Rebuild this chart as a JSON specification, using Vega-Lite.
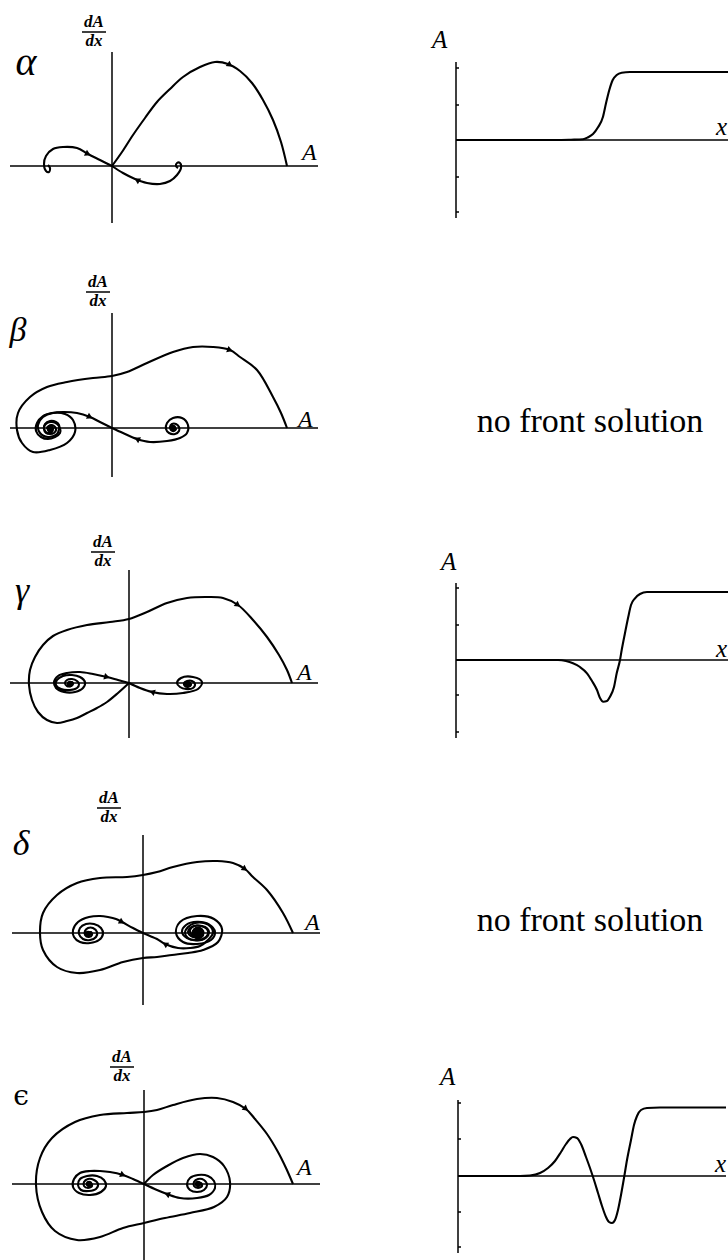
{
  "$schema": "https://vega.github.io/schema/vega-lite/v6.json",
  "background": "white",
  "padding": 0,
  "spacing": 0,
  "columns": 2,
  "align": "each",
  "bounds": "flush",
  "config": {"view": {"stroke": null}, "text": {"font": "Liberation Serif", "color": "black"}},
  "datasets": {
    "trajectories": [
      {"p":"α","c":"main","i":0,"A":0,"dA":0},{"p":"α","c":"main","i":1,"A":1.0,"dA":1.4},{"p":"α","c":"main","i":2,"A":2.1,"dA":3.1},{"p":"α","c":"main","i":3,"A":3.3,"dA":4.8},{"p":"α","c":"main","i":4,"A":4.5,"dA":6.4},{"p":"α","c":"main","i":5,"A":5.8,"dA":7.7},{"p":"α","c":"main","i":6,"A":7.1,"dA":8.9},{"p":"α","c":"main","i":7,"A":8.8,"dA":9.9},{"p":"α","c":"main","i":8,"A":10.3,"dA":10.4},{"p":"α","c":"main","i":9,"A":11.6,"dA":10.2},{"p":"α","c":"main","i":10,"A":12.8,"dA":9.5},{"p":"α","c":"main","i":11,"A":14.0,"dA":8.3},{"p":"α","c":"main","i":12,"A":15.1,"dA":6.6},{"p":"α","c":"main","i":13,"A":16.1,"dA":4.6},{"p":"α","c":"main","i":14,"A":16.9,"dA":2.4},{"p":"α","c":"main","i":15,"A":17.5,"dA":0},
      {"p":"α","c":"left","i":0,"A":0,"dA":0},{"p":"α","c":"left","i":1,"A":-1.2,"dA":0.6},{"p":"α","c":"left","i":2,"A":-2.4,"dA":1.2},{"p":"α","c":"left","i":3,"A":-3.5,"dA":1.8},{"p":"α","c":"left","i":4,"A":-4.9,"dA":1.9},{"p":"α","c":"left","i":5,"A":-5.9,"dA":1.7},{"p":"α","c":"left","i":6,"A":-6.6,"dA":1.0},{"p":"α","c":"left","i":7,"A":-6.8,"dA":0.2},{"p":"α","c":"left","i":8,"A":-6.6,"dA":-0.5},{"p":"α","c":"left","i":9,"A":-6.3,"dA":-0.6},{"p":"α","c":"left","i":10,"A":-6.2,"dA":-0.2},{"p":"α","c":"left","i":11,"A":-6.4,"dA":0.1},
      {"p":"α","c":"right","i":0,"A":0,"dA":0},{"p":"α","c":"right","i":1,"A":1.1,"dA":-0.7},{"p":"α","c":"right","i":2,"A":2.3,"dA":-1.3},{"p":"α","c":"right","i":3,"A":3.5,"dA":-1.7},{"p":"α","c":"right","i":4,"A":4.8,"dA":-1.8},{"p":"α","c":"right","i":5,"A":5.8,"dA":-1.5},{"p":"α","c":"right","i":6,"A":6.5,"dA":-0.9},{"p":"α","c":"right","i":7,"A":6.9,"dA":-0.2},{"p":"α","c":"right","i":8,"A":6.8,"dA":0.3},{"p":"α","c":"right","i":9,"A":6.5,"dA":0.3},{"p":"α","c":"right","i":10,"A":6.4,"dA":0},{"p":"α","c":"right","i":11,"A":6.6,"dA":-0.2},

      {"p":"β","c":"main","i":0,"A":-6.0,"dA":-0.1},{"p":"β","c":"main","i":1,"A":-6.1,"dA":-0.3},{"p":"β","c":"main","i":2,"A":-6.3,"dA":-0.3},{"p":"β","c":"main","i":3,"A":-6.4,"dA":-0.1},{"p":"β","c":"main","i":4,"A":-6.3,"dA":0.2},{"p":"β","c":"main","i":5,"A":-6.0,"dA":0.3},{"p":"β","c":"main","i":6,"A":-5.7,"dA":0.1},{"p":"β","c":"main","i":7,"A":-5.6,"dA":-0.2},{"p":"β","c":"main","i":8,"A":-5.8,"dA":-0.5},{"p":"β","c":"main","i":9,"A":-6.2,"dA":-0.6},{"p":"β","c":"main","i":10,"A":-6.6,"dA":-0.5},{"p":"β","c":"main","i":11,"A":-6.8,"dA":-0.1},{"p":"β","c":"main","i":12,"A":-6.7,"dA":0.4},{"p":"β","c":"main","i":13,"A":-6.2,"dA":0.7},{"p":"β","c":"main","i":14,"A":-5.6,"dA":0.6},{"p":"β","c":"main","i":15,"A":-5.3,"dA":0.3},{"p":"β","c":"main","i":16,"A":-5.3,"dA":-0.1},{"p":"β","c":"main","i":17,"A":-5.5,"dA":-0.6},{"p":"β","c":"main","i":18,"A":-6.4,"dA":-0.9},{"p":"β","c":"main","i":19,"A":-7.2,"dA":-0.5},{"p":"β","c":"main","i":20,"A":-7.4,"dA":0.3},{"p":"β","c":"main","i":21,"A":-6.9,"dA":1.1},{"p":"β","c":"main","i":22,"A":-5.9,"dA":1.5},{"p":"β","c":"main","i":23,"A":-4.7,"dA":1.4},{"p":"β","c":"main","i":24,"A":-3.9,"dA":0.8},{"p":"β","c":"main","i":25,"A":-3.7,"dA":-0.4},{"p":"β","c":"main","i":26,"A":-4.5,"dA":-1.5},{"p":"β","c":"main","i":27,"A":-6.2,"dA":-2.2},{"p":"β","c":"main","i":28,"A":-7.9,"dA":-2.4},{"p":"β","c":"main","i":29,"A":-9.0,"dA":-1.5},{"p":"β","c":"main","i":30,"A":-9.5,"dA":-0.2},{"p":"β","c":"main","i":31,"A":-9.4,"dA":1.5},{"p":"β","c":"main","i":32,"A":-8.2,"dA":3.1},{"p":"β","c":"main","i":33,"A":-6.5,"dA":4.1},{"p":"β","c":"main","i":34,"A":-4.5,"dA":4.6},{"p":"β","c":"main","i":35,"A":-1.9,"dA":5.0},{"p":"β","c":"main","i":36,"A":0,"dA":5.2},{"p":"β","c":"main","i":37,"A":1.5,"dA":5.6},{"p":"β","c":"main","i":38,"A":3.5,"dA":6.5},{"p":"β","c":"main","i":39,"A":6.1,"dA":7.6},{"p":"β","c":"main","i":40,"A":8.1,"dA":8.1},{"p":"β","c":"main","i":41,"A":10.1,"dA":8.1},{"p":"β","c":"main","i":42,"A":11.8,"dA":7.8},{"p":"β","c":"main","i":43,"A":12.8,"dA":7.1},{"p":"β","c":"main","i":44,"A":14.5,"dA":5.8},{"p":"β","c":"main","i":45,"A":16.1,"dA":3.1},{"p":"β","c":"main","i":46,"A":16.9,"dA":1.5},{"p":"β","c":"main","i":47,"A":17.5,"dA":0},
      {"p":"β","c":"left","i":0,"A":-6.3,"dA":-0.2},{"p":"β","c":"left","i":1,"A":-6.5,"dA":0},{"p":"β","c":"left","i":2,"A":-6.3,"dA":0.2},{"p":"β","c":"left","i":3,"A":-6.0,"dA":0.2},{"p":"β","c":"left","i":4,"A":-5.9,"dA":-0.1},{"p":"β","c":"left","i":5,"A":-6.0,"dA":-0.4},{"p":"β","c":"left","i":6,"A":-6.4,"dA":-0.5},{"p":"β","c":"left","i":7,"A":-6.7,"dA":-0.3},{"p":"β","c":"left","i":8,"A":-6.8,"dA":0.1},{"p":"β","c":"left","i":9,"A":-6.5,"dA":0.5},{"p":"β","c":"left","i":10,"A":-6.0,"dA":0.6},{"p":"β","c":"left","i":11,"A":-5.5,"dA":0.4},{"p":"β","c":"left","i":12,"A":-5.2,"dA":0},{"p":"β","c":"left","i":13,"A":-5.2,"dA":-0.5},{"p":"β","c":"left","i":14,"A":-5.7,"dA":-0.9},{"p":"β","c":"left","i":15,"A":-6.4,"dA":-1.1},{"p":"β","c":"left","i":16,"A":-7.1,"dA":-0.9},{"p":"β","c":"left","i":17,"A":-7.6,"dA":-0.3},{"p":"β","c":"left","i":18,"A":-7.5,"dA":0.5},{"p":"β","c":"left","i":19,"A":-6.9,"dA":1.2},{"p":"β","c":"left","i":20,"A":-6.0,"dA":1.5},{"p":"β","c":"left","i":21,"A":-4.9,"dA":1.6},{"p":"β","c":"left","i":22,"A":-3.5,"dA":1.5},{"p":"β","c":"left","i":23,"A":-2.2,"dA":1.1},{"p":"β","c":"left","i":24,"A":-1.2,"dA":0.6},{"p":"β","c":"left","i":25,"A":0,"dA":0},
      {"p":"β","c":"right","i":0,"A":6.2,"dA":0},{"p":"β","c":"right","i":1,"A":6.4,"dA":-0.1},{"p":"β","c":"right","i":2,"A":6.2,"dA":-0.3},{"p":"β","c":"right","i":3,"A":5.9,"dA":-0.2},{"p":"β","c":"right","i":4,"A":5.8,"dA":0.1},{"p":"β","c":"right","i":5,"A":6.0,"dA":0.4},{"p":"β","c":"right","i":6,"A":6.4,"dA":0.4},{"p":"β","c":"right","i":7,"A":6.7,"dA":0.1},{"p":"β","c":"right","i":8,"A":6.7,"dA":-0.3},{"p":"β","c":"right","i":9,"A":6.3,"dA":-0.6},{"p":"β","c":"right","i":10,"A":5.7,"dA":-0.5},{"p":"β","c":"right","i":11,"A":5.4,"dA":-0.1},{"p":"β","c":"right","i":12,"A":5.5,"dA":0.5},{"p":"β","c":"right","i":13,"A":6.1,"dA":1.0},{"p":"β","c":"right","i":14,"A":7.0,"dA":1.0},{"p":"β","c":"right","i":15,"A":7.6,"dA":0.3},{"p":"β","c":"right","i":16,"A":7.5,"dA":-0.5},{"p":"β","c":"right","i":17,"A":6.8,"dA":-1.0},{"p":"β","c":"right","i":18,"A":5.5,"dA":-1.3},{"p":"β","c":"right","i":19,"A":3.8,"dA":-1.4},{"p":"β","c":"right","i":20,"A":2.5,"dA":-1.1},{"p":"β","c":"right","i":21,"A":1.1,"dA":-0.5},{"p":"β","c":"right","i":22,"A":0,"dA":0},

      {"p":"γ","c":"main","i":0,"A":0,"dA":0},{"p":"γ","c":"main","i":1,"A":-1.1,"dA":-1.0},{"p":"γ","c":"main","i":2,"A":-2.2,"dA":-1.9},{"p":"γ","c":"main","i":3,"A":-3.2,"dA":-2.5},{"p":"γ","c":"main","i":4,"A":-4.2,"dA":-3.0},{"p":"γ","c":"main","i":5,"A":-5.2,"dA":-3.5},{"p":"γ","c":"main","i":6,"A":-6.2,"dA":-3.8},{"p":"γ","c":"main","i":7,"A":-7.2,"dA":-4.0},{"p":"γ","c":"main","i":8,"A":-8.2,"dA":-3.7},{"p":"γ","c":"main","i":9,"A":-9.1,"dA":-2.9},{"p":"γ","c":"main","i":10,"A":-9.7,"dA":-1.7},{"p":"γ","c":"main","i":11,"A":-10.0,"dA":-0.2},{"p":"γ","c":"main","i":12,"A":-9.9,"dA":1.3},{"p":"γ","c":"main","i":13,"A":-9.4,"dA":2.6},{"p":"γ","c":"main","i":14,"A":-8.6,"dA":3.8},{"p":"γ","c":"main","i":15,"A":-7.6,"dA":4.7},{"p":"γ","c":"main","i":16,"A":-6.2,"dA":5.3},{"p":"γ","c":"main","i":17,"A":-4.2,"dA":5.8},{"p":"γ","c":"main","i":18,"A":-1.9,"dA":6.1},{"p":"γ","c":"main","i":19,"A":0,"dA":6.4},{"p":"γ","c":"main","i":20,"A":1.8,"dA":7.1},{"p":"γ","c":"main","i":21,"A":3.8,"dA":8.0},{"p":"γ","c":"main","i":22,"A":5.8,"dA":8.5},{"p":"γ","c":"main","i":23,"A":7.8,"dA":8.6},{"p":"γ","c":"main","i":24,"A":9.4,"dA":8.5},{"p":"γ","c":"main","i":25,"A":10.9,"dA":7.8},{"p":"γ","c":"main","i":26,"A":12.4,"dA":6.3},{"p":"γ","c":"main","i":27,"A":13.8,"dA":4.6},{"p":"γ","c":"main","i":28,"A":15.0,"dA":2.8},{"p":"γ","c":"main","i":29,"A":15.8,"dA":1.3},{"p":"γ","c":"main","i":30,"A":16.3,"dA":0},
      {"p":"γ","c":"left","i":0,"A":-5.9,"dA":0},{"p":"γ","c":"left","i":1,"A":-5.7,"dA":0.1},{"p":"γ","c":"left","i":2,"A":-5.6,"dA":-0.1},{"p":"γ","c":"left","i":3,"A":-5.8,"dA":-0.3},{"p":"γ","c":"left","i":4,"A":-6.2,"dA":-0.3},{"p":"γ","c":"left","i":5,"A":-6.4,"dA":0},{"p":"γ","c":"left","i":6,"A":-6.2,"dA":0.3},{"p":"γ","c":"left","i":7,"A":-5.7,"dA":0.4},{"p":"γ","c":"left","i":8,"A":-5.2,"dA":0.2},{"p":"γ","c":"left","i":9,"A":-5.0,"dA":-0.1},{"p":"γ","c":"left","i":10,"A":-5.2,"dA":-0.5},{"p":"γ","c":"left","i":11,"A":-5.9,"dA":-0.7},{"p":"γ","c":"left","i":12,"A":-6.8,"dA":-0.6},{"p":"γ","c":"left","i":13,"A":-7.3,"dA":-0.2},{"p":"γ","c":"left","i":14,"A":-7.2,"dA":0.3},{"p":"γ","c":"left","i":15,"A":-6.6,"dA":0.7},{"p":"γ","c":"left","i":16,"A":-5.7,"dA":0.8},{"p":"γ","c":"left","i":17,"A":-4.9,"dA":0.6},{"p":"γ","c":"left","i":18,"A":-4.4,"dA":0.1},{"p":"γ","c":"left","i":19,"A":-4.6,"dA":-0.5},{"p":"γ","c":"left","i":20,"A":-5.4,"dA":-0.9},{"p":"γ","c":"left","i":21,"A":-6.5,"dA":-0.9},{"p":"γ","c":"left","i":22,"A":-7.3,"dA":-0.5},{"p":"γ","c":"left","i":23,"A":-7.5,"dA":0.1},{"p":"γ","c":"left","i":24,"A":-7.1,"dA":0.7},{"p":"γ","c":"left","i":25,"A":-6.2,"dA":1.0},{"p":"γ","c":"left","i":26,"A":-4.9,"dA":1.1},{"p":"γ","c":"left","i":27,"A":-3.6,"dA":0.9},{"p":"γ","c":"left","i":28,"A":-2.2,"dA":0.6},{"p":"γ","c":"left","i":29,"A":-1.1,"dA":0.3},{"p":"γ","c":"left","i":30,"A":0,"dA":0},
      {"p":"γ","c":"right","i":0,"A":5.9,"dA":-0.1},{"p":"γ","c":"right","i":1,"A":6.1,"dA":0},{"p":"γ","c":"right","i":2,"A":6.2,"dA":-0.2},{"p":"γ","c":"right","i":3,"A":5.9,"dA":-0.4},{"p":"γ","c":"right","i":4,"A":5.6,"dA":-0.3},{"p":"γ","c":"right","i":5,"A":5.5,"dA":0},{"p":"γ","c":"right","i":6,"A":5.8,"dA":0.2},{"p":"γ","c":"right","i":7,"A":6.3,"dA":0.2},{"p":"γ","c":"right","i":8,"A":6.6,"dA":-0.1},{"p":"γ","c":"right","i":9,"A":6.4,"dA":-0.5},{"p":"γ","c":"right","i":10,"A":5.7,"dA":-0.6},{"p":"γ","c":"right","i":11,"A":5.1,"dA":-0.4},{"p":"γ","c":"right","i":12,"A":4.8,"dA":0},{"p":"γ","c":"right","i":13,"A":5.2,"dA":0.5},{"p":"γ","c":"right","i":14,"A":6.4,"dA":0.6},{"p":"γ","c":"right","i":15,"A":7.3,"dA":0.1},{"p":"γ","c":"right","i":16,"A":6.9,"dA":-0.6},{"p":"γ","c":"right","i":17,"A":5.4,"dA":-1.0},{"p":"γ","c":"right","i":18,"A":3.8,"dA":-1.1},{"p":"γ","c":"right","i":19,"A":2.3,"dA":-0.9},{"p":"γ","c":"right","i":20,"A":1.1,"dA":-0.5},{"p":"γ","c":"right","i":21,"A":0,"dA":0},

      {"p":"δ","c":"main","i":0,"A":6.0,"dA":0.1},{"p":"δ","c":"main","i":1,"A":5.9,"dA":-0.2},{"p":"δ","c":"main","i":2,"A":5.4,"dA":-0.4},{"p":"δ","c":"main","i":3,"A":4.8,"dA":-0.3},{"p":"δ","c":"main","i":4,"A":4.5,"dA":0.1},{"p":"δ","c":"main","i":5,"A":4.7,"dA":0.5},{"p":"δ","c":"main","i":6,"A":5.4,"dA":0.75},{"p":"δ","c":"main","i":7,"A":6.2,"dA":0.6},{"p":"δ","c":"main","i":8,"A":6.6,"dA":0.1},{"p":"δ","c":"main","i":9,"A":6.3,"dA":-0.46},{"p":"δ","c":"main","i":10,"A":5.4,"dA":-0.74},{"p":"δ","c":"main","i":11,"A":4.4,"dA":-0.52},{"p":"δ","c":"main","i":12,"A":3.9,"dA":0.1},{"p":"δ","c":"main","i":13,"A":4.3,"dA":0.8},{"p":"δ","c":"main","i":14,"A":5.4,"dA":1.12},{"p":"δ","c":"main","i":15,"A":6.6,"dA":0.86},{"p":"δ","c":"main","i":16,"A":7.2,"dA":0.1},{"p":"δ","c":"main","i":17,"A":6.8,"dA":-0.7},{"p":"δ","c":"main","i":18,"A":5.4,"dA":-1.1},{"p":"δ","c":"main","i":19,"A":4.0,"dA":-0.9},{"p":"δ","c":"main","i":20,"A":3.3,"dA":0},{"p":"δ","c":"main","i":21,"A":3.7,"dA":1.1},{"p":"δ","c":"main","i":22,"A":5.4,"dA":1.7},{"p":"δ","c":"main","i":23,"A":7.1,"dA":1.4},{"p":"δ","c":"main","i":24,"A":7.9,"dA":0.4},{"p":"δ","c":"main","i":25,"A":7.5,"dA":-0.9},{"p":"δ","c":"main","i":26,"A":6.0,"dA":-1.7},{"p":"δ","c":"main","i":27,"A":4.5,"dA":-2.0},{"p":"δ","c":"main","i":28,"A":2.9,"dA":-2.2},{"p":"δ","c":"main","i":29,"A":1.4,"dA":-2.4},{"p":"δ","c":"main","i":30,"A":0,"dA":-2.5},{"p":"δ","c":"main","i":31,"A":-2.0,"dA":-2.9},{"p":"δ","c":"main","i":32,"A":-4.3,"dA":-3.7},{"p":"δ","c":"main","i":33,"A":-6.6,"dA":-4.0},{"p":"δ","c":"main","i":34,"A":-8.6,"dA":-3.4},{"p":"δ","c":"main","i":35,"A":-10.0,"dA":-1.7},{"p":"δ","c":"main","i":36,"A":-10.3,"dA":0},{"p":"δ","c":"main","i":37,"A":-10.0,"dA":2.0},{"p":"δ","c":"main","i":38,"A":-8.6,"dA":3.8},{"p":"δ","c":"main","i":39,"A":-6.6,"dA":5.0},{"p":"δ","c":"main","i":40,"A":-4.3,"dA":5.5},{"p":"δ","c":"main","i":41,"A":-1.6,"dA":5.6},{"p":"δ","c":"main","i":42,"A":0,"dA":5.8},{"p":"δ","c":"main","i":43,"A":1.4,"dA":6.1},{"p":"δ","c":"main","i":44,"A":3.0,"dA":6.6},{"p":"δ","c":"main","i":45,"A":5.4,"dA":7.1},{"p":"δ","c":"main","i":46,"A":7.4,"dA":7.2},{"p":"δ","c":"main","i":47,"A":9.0,"dA":7.0},{"p":"δ","c":"main","i":48,"A":10.2,"dA":6.4},{"p":"δ","c":"main","i":49,"A":11.0,"dA":5.6},{"p":"δ","c":"main","i":50,"A":12.4,"dA":4.3},{"p":"δ","c":"main","i":51,"A":14.0,"dA":2.0},{"p":"δ","c":"main","i":52,"A":15.0,"dA":0},
      {"p":"δ","c":"left","i":0,"A":-5.5,"dA":0},{"p":"δ","c":"left","i":1,"A":-5.2,"dA":0.1},{"p":"δ","c":"left","i":2,"A":-5.1,"dA":-0.2},{"p":"δ","c":"left","i":3,"A":-5.4,"dA":-0.4},{"p":"δ","c":"left","i":4,"A":-5.8,"dA":-0.2},{"p":"δ","c":"left","i":5,"A":-5.8,"dA":0.2},{"p":"δ","c":"left","i":6,"A":-5.5,"dA":0.5},{"p":"δ","c":"left","i":7,"A":-5.0,"dA":0.5},{"p":"δ","c":"left","i":8,"A":-4.6,"dA":0.1},{"p":"δ","c":"left","i":9,"A":-4.7,"dA":-0.4},{"p":"δ","c":"left","i":10,"A":-5.3,"dA":-0.7},{"p":"δ","c":"left","i":11,"A":-6.0,"dA":-0.6},{"p":"δ","c":"left","i":12,"A":-6.4,"dA":-0.1},{"p":"δ","c":"left","i":13,"A":-6.3,"dA":0.5},{"p":"δ","c":"left","i":14,"A":-5.7,"dA":0.9},{"p":"δ","c":"left","i":15,"A":-4.9,"dA":0.9},{"p":"δ","c":"left","i":16,"A":-4.2,"dA":0.5},{"p":"δ","c":"left","i":17,"A":-4.0,"dA":-0.1},{"p":"δ","c":"left","i":18,"A":-4.4,"dA":-0.7},{"p":"δ","c":"left","i":19,"A":-5.3,"dA":-1.0},{"p":"δ","c":"left","i":20,"A":-6.3,"dA":-0.9},{"p":"δ","c":"left","i":21,"A":-6.9,"dA":-0.4},{"p":"δ","c":"left","i":22,"A":-7.0,"dA":0.3},{"p":"δ","c":"left","i":23,"A":-6.5,"dA":1.1},{"p":"δ","c":"left","i":24,"A":-5.4,"dA":1.6},{"p":"δ","c":"left","i":25,"A":-4.3,"dA":1.7},{"p":"δ","c":"left","i":26,"A":-3.5,"dA":1.6},{"p":"δ","c":"left","i":27,"A":-2.7,"dA":1.4},{"p":"δ","c":"left","i":28,"A":-2.1,"dA":1.1},{"p":"δ","c":"left","i":29,"A":-1.0,"dA":0.5},{"p":"δ","c":"left","i":30,"A":0,"dA":0},
      {"p":"δ","c":"right","i":0,"A":5.0,"dA":0.1},{"p":"δ","c":"right","i":1,"A":5.2,"dA":0.4},{"p":"δ","c":"right","i":2,"A":5.7,"dA":0.4},{"p":"δ","c":"right","i":3,"A":6.0,"dA":0.1},{"p":"δ","c":"right","i":4,"A":5.8,"dA":-0.2},{"p":"δ","c":"right","i":5,"A":5.3,"dA":-0.3},{"p":"δ","c":"right","i":6,"A":4.8,"dA":-0.1},{"p":"δ","c":"right","i":7,"A":4.7,"dA":0.3},{"p":"δ","c":"right","i":8,"A":5.1,"dA":0.7},{"p":"δ","c":"right","i":9,"A":5.8,"dA":0.7},{"p":"δ","c":"right","i":10,"A":6.4,"dA":0.4},{"p":"δ","c":"right","i":11,"A":6.5,"dA":-0.1},{"p":"δ","c":"right","i":12,"A":6.0,"dA":-0.6},{"p":"δ","c":"right","i":13,"A":5.2,"dA":-0.7},{"p":"δ","c":"right","i":14,"A":4.5,"dA":-0.5},{"p":"δ","c":"right","i":15,"A":4.2,"dA":0},{"p":"δ","c":"right","i":16,"A":4.5,"dA":0.6},{"p":"δ","c":"right","i":17,"A":5.2,"dA":1.0},{"p":"δ","c":"right","i":18,"A":6.1,"dA":1.0},{"p":"δ","c":"right","i":19,"A":6.8,"dA":0.6},{"p":"δ","c":"right","i":20,"A":7.0,"dA":0},{"p":"δ","c":"right","i":21,"A":6.5,"dA":-0.7},{"p":"δ","c":"right","i":22,"A":5.7,"dA":-1.3},{"p":"δ","c":"right","i":23,"A":4.7,"dA":-1.5},{"p":"δ","c":"right","i":24,"A":3.5,"dA":-1.5},{"p":"δ","c":"right","i":25,"A":2.2,"dA":-1.1},{"p":"δ","c":"right","i":26,"A":1.4,"dA":-0.6},{"p":"δ","c":"right","i":27,"A":0.7,"dA":-0.3},{"p":"δ","c":"right","i":28,"A":0,"dA":0},

      {"p":"ϵ","c":"main","i":0,"A":0,"dA":0},{"p":"ϵ","c":"main","i":1,"A":0.9,"dA":0.9},{"p":"ϵ","c":"main","i":2,"A":2.3,"dA":1.8},{"p":"ϵ","c":"main","i":3,"A":3.9,"dA":2.6},{"p":"ϵ","c":"main","i":4,"A":5.6,"dA":3.0},{"p":"ϵ","c":"main","i":5,"A":6.9,"dA":2.7},{"p":"ϵ","c":"main","i":6,"A":8.0,"dA":1.8},{"p":"ϵ","c":"main","i":7,"A":8.6,"dA":0.2},{"p":"ϵ","c":"main","i":8,"A":8.3,"dA":-1.3},{"p":"ϵ","c":"main","i":9,"A":7.0,"dA":-2.3},{"p":"ϵ","c":"main","i":10,"A":4.6,"dA":-2.9},{"p":"ϵ","c":"main","i":11,"A":2.1,"dA":-3.4},{"p":"ϵ","c":"main","i":12,"A":0,"dA":-3.9},{"p":"ϵ","c":"main","i":13,"A":-2.1,"dA":-4.4},{"p":"ϵ","c":"main","i":14,"A":-4.4,"dA":-5.3},{"p":"ϵ","c":"main","i":15,"A":-6.7,"dA":-5.6},{"p":"ϵ","c":"main","i":16,"A":-8.9,"dA":-4.7},{"p":"ϵ","c":"main","i":17,"A":-10.2,"dA":-2.8},{"p":"ϵ","c":"main","i":18,"A":-10.8,"dA":-0.1},{"p":"ϵ","c":"main","i":19,"A":-10.4,"dA":2.6},{"p":"ϵ","c":"main","i":20,"A":-9.2,"dA":4.6},{"p":"ϵ","c":"main","i":21,"A":-6.9,"dA":6.2},{"p":"ϵ","c":"main","i":22,"A":-4.4,"dA":6.9},{"p":"ϵ","c":"main","i":23,"A":-1.7,"dA":7.1},{"p":"ϵ","c":"main","i":24,"A":0,"dA":7.2},{"p":"ϵ","c":"main","i":25,"A":1.3,"dA":7.4},{"p":"ϵ","c":"main","i":26,"A":2.9,"dA":7.9},{"p":"ϵ","c":"main","i":27,"A":5.3,"dA":8.5},{"p":"ϵ","c":"main","i":28,"A":7.3,"dA":8.6},{"p":"ϵ","c":"main","i":29,"A":8.9,"dA":8.2},{"p":"ϵ","c":"main","i":30,"A":10.2,"dA":7.5},{"p":"ϵ","c":"main","i":31,"A":11.1,"dA":6.5},{"p":"ϵ","c":"main","i":32,"A":12.3,"dA":5.0},{"p":"ϵ","c":"main","i":33,"A":13.4,"dA":3.2},{"p":"ϵ","c":"main","i":34,"A":14.2,"dA":1.6},{"p":"ϵ","c":"main","i":35,"A":14.9,"dA":0},
      {"p":"ϵ","c":"left","i":0,"A":-5.6,"dA":0},{"p":"ϵ","c":"left","i":1,"A":-5.3,"dA":0.1},{"p":"ϵ","c":"left","i":2,"A":-5.2,"dA":-0.2},{"p":"ϵ","c":"left","i":3,"A":-5.6,"dA":-0.4},{"p":"ϵ","c":"left","i":4,"A":-6.0,"dA":-0.2},{"p":"ϵ","c":"left","i":5,"A":-6.0,"dA":0.2},{"p":"ϵ","c":"left","i":6,"A":-5.6,"dA":0.5},{"p":"ϵ","c":"left","i":7,"A":-5.0,"dA":0.4},{"p":"ϵ","c":"left","i":8,"A":-4.6,"dA":0},{"p":"ϵ","c":"left","i":9,"A":-4.8,"dA":-0.5},{"p":"ϵ","c":"left","i":10,"A":-5.5,"dA":-0.7},{"p":"ϵ","c":"left","i":11,"A":-6.3,"dA":-0.6},{"p":"ϵ","c":"left","i":12,"A":-6.6,"dA":-0.1},{"p":"ϵ","c":"left","i":13,"A":-6.4,"dA":0.5},{"p":"ϵ","c":"left","i":14,"A":-5.7,"dA":0.8},{"p":"ϵ","c":"left","i":15,"A":-4.7,"dA":0.8},{"p":"ϵ","c":"left","i":16,"A":-4.0,"dA":0.4},{"p":"ϵ","c":"left","i":17,"A":-3.8,"dA":-0.2},{"p":"ϵ","c":"left","i":18,"A":-4.3,"dA":-0.8},{"p":"ϵ","c":"left","i":19,"A":-5.4,"dA":-1.1},{"p":"ϵ","c":"left","i":20,"A":-6.5,"dA":-0.9},{"p":"ϵ","c":"left","i":21,"A":-7.1,"dA":-0.3},{"p":"ϵ","c":"left","i":22,"A":-7.0,"dA":0.5},{"p":"ϵ","c":"left","i":23,"A":-6.4,"dA":1.1},{"p":"ϵ","c":"left","i":24,"A":-5.4,"dA":1.3},{"p":"ϵ","c":"left","i":25,"A":-4.4,"dA":1.3},{"p":"ϵ","c":"left","i":26,"A":-3.4,"dA":1.2},{"p":"ϵ","c":"left","i":27,"A":-2.1,"dA":0.9},{"p":"ϵ","c":"left","i":28,"A":-1.1,"dA":0.5},{"p":"ϵ","c":"left","i":29,"A":0,"dA":0},
      {"p":"ϵ","c":"right","i":0,"A":5.4,"dA":0},{"p":"ϵ","c":"right","i":1,"A":5.7,"dA":0.1},{"p":"ϵ","c":"right","i":2,"A":5.8,"dA":-0.2},{"p":"ϵ","c":"right","i":3,"A":5.4,"dA":-0.4},{"p":"ϵ","c":"right","i":4,"A":5.0,"dA":-0.2},{"p":"ϵ","c":"right","i":5,"A":5.0,"dA":0.2},{"p":"ϵ","c":"right","i":6,"A":5.4,"dA":0.5},{"p":"ϵ","c":"right","i":7,"A":6.0,"dA":0.4},{"p":"ϵ","c":"right","i":8,"A":6.3,"dA":-0.1},{"p":"ϵ","c":"right","i":9,"A":6.0,"dA":-0.6},{"p":"ϵ","c":"right","i":10,"A":5.3,"dA":-0.8},{"p":"ϵ","c":"right","i":11,"A":4.6,"dA":-0.6},{"p":"ϵ","c":"right","i":12,"A":4.3,"dA":0},{"p":"ϵ","c":"right","i":13,"A":4.6,"dA":0.6},{"p":"ϵ","c":"right","i":14,"A":5.4,"dA":0.9},{"p":"ϵ","c":"right","i":15,"A":6.4,"dA":0.8},{"p":"ϵ","c":"right","i":16,"A":7.0,"dA":0.3},{"p":"ϵ","c":"right","i":17,"A":7.1,"dA":-0.4},{"p":"ϵ","c":"right","i":18,"A":6.5,"dA":-1.1},{"p":"ϵ","c":"right","i":19,"A":5.3,"dA":-1.4},{"p":"ϵ","c":"right","i":20,"A":3.6,"dA":-1.4},{"p":"ϵ","c":"right","i":21,"A":2.3,"dA":-1.0},{"p":"ϵ","c":"right","i":22,"A":1.3,"dA":-0.6},{"p":"ϵ","c":"right","i":23,"A":0,"dA":0}
    ],
    "arrows": [
      {"p":"α","A":11.8,"dA":10.1,"dir":125},{"p":"α","A":-2.4,"dA":1.2,"dir":117},{"p":"α","A":2.5,"dA":-1.4,"dir":300},
      {"p":"β","A":11.8,"dA":7.8,"dir":110},{"p":"β","A":-2.2,"dA":1.1,"dir":117},{"p":"β","A":2.5,"dA":-1.1,"dir":295},
      {"p":"γ","A":10.9,"dA":7.8,"dir":126},{"p":"γ","A":-2.2,"dA":0.6,"dir":105},{"p":"γ","A":2.3,"dA":-0.9,"dir":288},
      {"p":"δ","A":10.2,"dA":6.4,"dir":125},{"p":"δ","A":-2.1,"dA":1.1,"dir":119},{"p":"δ","A":2.2,"dA":-1.1,"dir":301},
      {"p":"ϵ","A":10.2,"dA":7.5,"dir":128},{"p":"ϵ","A":-2.1,"dA":0.9,"dir":112},{"p":"ϵ","A":2.3,"dA":-1.0,"dir":292}
    ],
    "foci": [
      {"p":"β","A":-6.2,"dA":-0.1,"kind":"focus"},{"p":"β","A":6.1,"dA":0,"kind":"focus"},
      {"p":"γ","A":-5.9,"dA":-0.1,"kind":"focus"},{"p":"γ","A":5.9,"dA":-0.1,"kind":"focus"},
      {"p":"δ","A":-5.5,"dA":-0.1,"kind":"focus"},{"p":"δ","A":5.5,"dA":0,"kind":"dense focus"},
      {"p":"ϵ","A":-5.5,"dA":0,"kind":"focus"},{"p":"ϵ","A":5.4,"dA":0,"kind":"focus"}
    ],
    "phase_axes": [
      {"p":"α","A":-10.2,"dA":0,"A2":20.6,"dA2":0},{"p":"α","A":0,"dA":11.4,"A2":0,"dA2":-5.7},{"p":"α","A":-3.0,"dA":13.4,"A2":-0.6,"dA2":13.4},
      {"p":"β","A":-10.2,"dA":0,"A2":20.6,"dA2":0},{"p":"β","A":0,"dA":11.5,"A2":0,"dA2":-4.9},{"p":"β","A":-2.6,"dA":13.6,"A2":-0.2,"dA2":13.6},
      {"p":"γ","A":-11.9,"dA":0,"A2":18.9,"dA2":0},{"p":"γ","A":0,"dA":11.3,"A2":0,"dA2":-5.5},{"p":"γ","A":-3.8,"dA":13.1,"A2":-1.4,"dA2":13.1},
      {"p":"δ","A":-13.1,"dA":0,"A2":17.7,"dA2":0},{"p":"δ","A":0,"dA":9.8,"A2":0,"dA2":-7.2},{"p":"δ","A":-4.6,"dA":12.5,"A2":-2.2,"dA2":12.5},
      {"p":"ϵ","A":-13.2,"dA":0,"A2":17.6,"dA2":0},{"p":"ϵ","A":0,"dA":9.4,"A2":0,"dA2":-7.6},{"p":"ϵ","A":-3.4,"dA":11.7,"A2":-1.0,"dA2":11.7}
    ],
    "phase_labels": [
      {"p":"α","role":"panel","t":"α","A":-8.6,"dA":9.1},{"p":"α","role":"axis","t":"A","A":19.0,"dA":0.6},{"p":"α","role":"frac","t":"dA","A":-1.8,"dA":14.4},{"p":"α","role":"frac","t":"dx","A":-1.8,"dA":12.5},
      {"p":"β","role":"panel","t":"β","A":-9.4,"dA":8.7},{"p":"β","role":"axis","t":"A","A":18.6,"dA":0.1},{"p":"β","role":"frac","t":"dA","A":-1.4,"dA":14.6},{"p":"β","role":"frac","t":"dx","A":-1.4,"dA":12.7},
      {"p":"γ","role":"panel","t":"γ","A":-10.7,"dA":8.1},{"p":"γ","role":"axis","t":"A","A":16.8,"dA":0.3},{"p":"γ","role":"frac","t":"dA","A":-2.6,"dA":14.1},{"p":"γ","role":"frac","t":"dx","A":-2.6,"dA":12.2},
      {"p":"δ","role":"panel","t":"δ","A":-12.2,"dA":7.8},{"p":"δ","role":"axis","t":"A","A":16.2,"dA":0.3},{"p":"δ","role":"frac","t":"dA","A":-3.4,"dA":13.5},{"p":"δ","role":"frac","t":"dx","A":-3.4,"dA":11.6},
      {"p":"ϵ","role":"panel","t":"ϵ","A":-12.3,"dA":7.9},{"p":"ϵ","role":"axis","t":"A","A":15.3,"dA":0.9},{"p":"ϵ","role":"frac","t":"dA","A":-2.2,"dA":12.7},{"p":"ϵ","role":"frac","t":"dx","A":-2.2,"dA":10.8}
    ],
    "profiles": [
      {"p":"α","i":0,"x":0,"A":0},{"p":"α","i":1,"x":10,"A":0},{"p":"α","i":2,"x":11.5,"A":0.03},{"p":"α","i":3,"x":12.7,"A":0.07},{"p":"α","i":4,"x":13.2,"A":0.27},{"p":"α","i":5,"x":13.7,"A":0.6},{"p":"α","i":6,"x":14.2,"A":1.27},{"p":"α","i":7,"x":14.7,"A":2.33},{"p":"α","i":8,"x":15.0,"A":3.67},{"p":"α","i":9,"x":15.33,"A":5.0},{"p":"α","i":10,"x":15.67,"A":6.0},{"p":"α","i":11,"x":16.07,"A":6.5},{"p":"α","i":12,"x":16.57,"A":6.73},{"p":"α","i":13,"x":17.4,"A":6.8},{"p":"α","i":14,"x":19,"A":6.8},{"p":"α","i":15,"x":27.2,"A":6.8},
      {"p":"γ","i":0,"x":0,"A":0},{"p":"γ","i":1,"x":9.4,"A":0},{"p":"γ","i":2,"x":10.2,"A":0},{"p":"γ","i":3,"x":11.0,"A":-0.1},{"p":"γ","i":4,"x":11.7,"A":-0.33},{"p":"γ","i":5,"x":12.4,"A":-0.7},{"p":"γ","i":6,"x":13.1,"A":-1.33},{"p":"γ","i":7,"x":13.6,"A":-2.1},{"p":"γ","i":8,"x":14.1,"A":-3.0},{"p":"γ","i":9,"x":14.4,"A":-3.8},{"p":"γ","i":10,"x":14.73,"A":-4.17},{"p":"γ","i":11,"x":15.1,"A":-4.1},{"p":"γ","i":12,"x":15.4,"A":-3.67},{"p":"γ","i":13,"x":15.8,"A":-2.7},{"p":"γ","i":14,"x":16.07,"A":-1.33},{"p":"γ","i":15,"x":16.4,"A":0},{"p":"γ","i":16,"x":16.57,"A":1.0},{"p":"γ","i":17,"x":16.9,"A":2.7},{"p":"γ","i":18,"x":17.23,"A":4.33},{"p":"γ","i":19,"x":17.5,"A":5.5},{"p":"γ","i":20,"x":17.9,"A":6.17},{"p":"γ","i":21,"x":18.4,"A":6.6},{"p":"γ","i":22,"x":19.1,"A":6.8},{"p":"γ","i":23,"x":20.4,"A":6.8},{"p":"γ","i":24,"x":27.2,"A":6.8},
      {"p":"ϵ","i":0,"x":0,"A":0},{"p":"ϵ","i":1,"x":6.2,"A":0},{"p":"ϵ","i":2,"x":7.2,"A":0.05},{"p":"ϵ","i":3,"x":8.2,"A":0.3},{"p":"ϵ","i":4,"x":9.0,"A":0.8},{"p":"ϵ","i":5,"x":9.7,"A":1.5},{"p":"ϵ","i":6,"x":10.3,"A":2.4},{"p":"ϵ","i":7,"x":10.8,"A":3.2},{"p":"ϵ","i":8,"x":11.2,"A":3.7},{"p":"ϵ","i":9,"x":11.5,"A":3.9},{"p":"ϵ","i":10,"x":11.9,"A":3.8},{"p":"ϵ","i":11,"x":12.3,"A":3.2},{"p":"ϵ","i":12,"x":12.8,"A":1.9},{"p":"ϵ","i":13,"x":13.2,"A":0.8},{"p":"ϵ","i":14,"x":13.6,"A":-0.4},{"p":"ϵ","i":15,"x":14.0,"A":-1.7},{"p":"ϵ","i":16,"x":14.4,"A":-3.0},{"p":"ϵ","i":17,"x":14.8,"A":-4.1},{"p":"ϵ","i":18,"x":15.1,"A":-4.6},{"p":"ϵ","i":19,"x":15.4,"A":-4.7},{"p":"ϵ","i":20,"x":15.7,"A":-4.4},{"p":"ϵ","i":21,"x":16.0,"A":-3.4},{"p":"ϵ","i":22,"x":16.3,"A":-1.9},{"p":"ϵ","i":23,"x":16.6,"A":-0.2},{"p":"ϵ","i":24,"x":16.9,"A":1.6},{"p":"ϵ","i":25,"x":17.3,"A":3.6},{"p":"ϵ","i":26,"x":17.6,"A":5.1},{"p":"ϵ","i":27,"x":17.9,"A":6.0},{"p":"ϵ","i":28,"x":18.3,"A":6.6},{"p":"ϵ","i":29,"x":18.9,"A":6.8},{"p":"ϵ","i":30,"x":20.2,"A":6.85},{"p":"ϵ","i":31,"x":26.8,"A":6.85}
    ],
    "profile_axes": [
      {"p":"α","x":0,"A":7.8,"x2":0,"A2":-7.8},{"p":"α","x":0,"A":0,"x2":27.2,"A2":0},{"p":"α","x":0,"A":7.2,"x2":0.3,"A2":7.2},{"p":"α","x":0,"A":3.5,"x2":0.3,"A2":3.5},{"p":"α","x":0,"A":-3.7,"x2":0.3,"A2":-3.7},{"p":"α","x":0,"A":-7.2,"x2":0.3,"A2":-7.2},
      {"p":"γ","x":0,"A":7.7,"x2":0,"A2":-7.8},{"p":"γ","x":0,"A":0,"x2":27.2,"A2":0},{"p":"γ","x":0,"A":7.2,"x2":0.3,"A2":7.2},{"p":"γ","x":0,"A":3.5,"x2":0.3,"A2":3.5},{"p":"γ","x":0,"A":-3.5,"x2":0.3,"A2":-3.5},{"p":"γ","x":0,"A":-7.2,"x2":0.3,"A2":-7.2},
      {"p":"ϵ","x":0,"A":7.6,"x2":0,"A2":-7.7},{"p":"ϵ","x":0,"A":0,"x2":26.8,"A2":0},{"p":"ϵ","x":0,"A":7.3,"x2":0.3,"A2":7.3},{"p":"ϵ","x":0,"A":3.7,"x2":0.3,"A2":3.7},{"p":"ϵ","x":0,"A":-3.6,"x2":0.3,"A2":-3.6},{"p":"ϵ","x":0,"A":-7.1,"x2":0.3,"A2":-7.1}
    ],
    "profile_labels": [
      {"p":"α","role":"value","t":"A","x":-2.4,"A":9.2},{"p":"α","role":"position","t":"x","x":27.1,"A":0.5},
      {"p":"γ","role":"value","t":"A","x":-1.5,"A":9.0},{"p":"γ","role":"position","t":"x","x":27.1,"A":0.3},
      {"p":"ϵ","role":"value","t":"A","x":-1.8,"A":9.1},{"p":"ϵ","role":"position","t":"x","x":26.8,"A":0.4}
    ],
    "notes": [
      {"p":"β","t":"no front solution","x":17.0,"y":5.8},
      {"p":"δ","t":"no front solution","x":17.0,"y":7.9}
    ]
  },
  "concat": [
    {
      "width": 420, "height": 250,
      "encoding": {
        "x": {"field": "A", "type": "quantitative", "scale": {"domain": [-11.2, 30.8], "nice": false, "zero": false}, "axis": null},
        "y": {"field": "dA", "type": "quantitative", "scale": {"domain": [-8.4, 16.6], "nice": false, "zero": false}, "axis": null}
      },
      "layer": [
        {"data": {"name": "phase_axes"}, "transform": [{"filter": "datum.p === 'α'"}], "mark": {"type": "rule", "color": "black", "strokeWidth": 1.5}, "encoding": {"x2": {"field": "A2"}, "y2": {"field": "dA2"}}},
        {"data": {"name": "trajectories"}, "transform": [{"filter": "datum.p === 'α'"}], "mark": {"type": "line", "interpolate": "catmull-rom", "color": "black", "strokeWidth": 2.1}, "encoding": {"detail": {"field": "c", "type": "nominal"}, "order": {"field": "i", "type": "quantitative"}}},
        {"data": {"name": "arrows"}, "transform": [{"filter": "datum.p === 'α'"}], "mark": {"type": "point", "shape": "triangle-up", "filled": true, "color": "black", "opacity": 1, "size": 44}, "encoding": {"angle": {"field": "dir", "type": "quantitative", "scale": null}}},
        {"data": {"name": "phase_labels"}, "transform": [{"filter": "datum.p === 'α' && datum.role === 'panel'"}], "mark": {"type": "text", "fontSize": 40, "fontStyle": "italic", "align": "center", "baseline": "alphabetic"}, "encoding": {"text": {"field": "t"}}},
        {"data": {"name": "phase_labels"}, "transform": [{"filter": "datum.p === 'α' && datum.role === 'axis'"}], "mark": {"type": "text", "fontSize": 24, "fontStyle": "italic", "align": "left", "baseline": "alphabetic"}, "encoding": {"text": {"field": "t"}}},
        {"data": {"name": "phase_labels"}, "transform": [{"filter": "datum.p === 'α' && datum.role === 'frac'"}], "mark": {"type": "text", "fontSize": 17, "fontStyle": "italic", "fontWeight": "bold", "align": "center", "baseline": "middle"}, "encoding": {"text": {"field": "t"}}}
      ]
    },
    {
      "width": 308, "height": 250,
      "encoding": {
        "x": {"field": "x", "type": "quantitative", "scale": {"domain": [-3.6, 27.2], "nice": false, "zero": false}, "axis": null},
        "y": {"field": "A", "type": "quantitative", "scale": {"domain": [-11, 14], "nice": false, "zero": false}, "axis": null}
      },
      "layer": [
        {"data": {"name": "profile_axes"}, "transform": [{"filter": "datum.p === 'α'"}], "mark": {"type": "rule", "color": "black", "strokeWidth": 1.5}, "encoding": {"x2": {"field": "x2"}, "y2": {"field": "A2"}}},
        {"data": {"name": "profiles"}, "transform": [{"filter": "datum.p === 'α'"}], "mark": {"type": "line", "interpolate": "monotone", "color": "black", "strokeWidth": 2.1}, "encoding": {"order": {"field": "i", "type": "quantitative"}}},
        {"data": {"name": "profile_labels"}, "transform": [{"filter": "datum.p === 'α' && datum.role === 'value'"}], "mark": {"type": "text", "fontSize": 25, "fontStyle": "italic", "align": "left", "baseline": "alphabetic"}, "encoding": {"text": {"field": "t"}}},
        {"data": {"name": "profile_labels"}, "transform": [{"filter": "datum.p === 'α' && datum.role === 'position'"}], "mark": {"type": "text", "fontSize": 25, "fontStyle": "italic", "align": "right", "baseline": "alphabetic"}, "encoding": {"text": {"field": "t"}}}
      ]
    },
    {
      "width": 420, "height": 240,
      "encoding": {
        "x": {"field": "A", "type": "quantitative", "scale": {"domain": [-11.2, 30.8], "nice": false, "zero": false}, "axis": null},
        "y": {"field": "dA", "type": "quantitative", "scale": {"domain": [-6.2, 17.8], "nice": false, "zero": false}, "axis": null}
      },
      "layer": [
        {"data": {"name": "phase_axes"}, "transform": [{"filter": "datum.p === 'β'"}], "mark": {"type": "rule", "color": "black", "strokeWidth": 1.5}, "encoding": {"x2": {"field": "A2"}, "y2": {"field": "dA2"}}},
        {"data": {"name": "trajectories"}, "transform": [{"filter": "datum.p === 'β'"}], "mark": {"type": "line", "interpolate": "catmull-rom", "color": "black", "strokeWidth": 2.1}, "encoding": {"detail": {"field": "c", "type": "nominal"}, "order": {"field": "i", "type": "quantitative"}}},
        {"data": {"name": "arrows"}, "transform": [{"filter": "datum.p === 'β'"}], "mark": {"type": "point", "shape": "triangle-up", "filled": true, "color": "black", "opacity": 1, "size": 44}, "encoding": {"angle": {"field": "dir", "type": "quantitative", "scale": null}}},
        {"data": {"name": "foci"}, "transform": [{"filter": "datum.p === 'β'"}], "mark": {"type": "circle", "color": "black", "opacity": 1}, "encoding": {"size": {"field": "kind", "type": "ordinal", "scale": {"domain": ["focus", "dense focus"], "range": [40, 170]}, "legend": null}}},
        {"data": {"name": "phase_labels"}, "transform": [{"filter": "datum.p === 'β' && datum.role === 'panel'"}], "mark": {"type": "text", "fontSize": 34, "fontStyle": "italic", "align": "center", "baseline": "alphabetic"}, "encoding": {"text": {"field": "t"}}},
        {"data": {"name": "phase_labels"}, "transform": [{"filter": "datum.p === 'β' && datum.role === 'axis'"}], "mark": {"type": "text", "fontSize": 24, "fontStyle": "italic", "align": "left", "baseline": "alphabetic"}, "encoding": {"text": {"field": "t"}}},
        {"data": {"name": "phase_labels"}, "transform": [{"filter": "datum.p === 'β' && datum.role === 'frac'"}], "mark": {"type": "text", "fontSize": 17, "fontStyle": "italic", "fontWeight": "bold", "align": "center", "baseline": "middle"}, "encoding": {"text": {"field": "t"}}}
      ]
    },
    {
      "width": 308, "height": 240,
      "data": {"name": "notes"},
      "transform": [{"filter": "datum.p === 'β'"}],
      "mark": {"type": "text", "fontSize": 34, "align": "center", "baseline": "alphabetic"},
      "encoding": {
        "x": {"field": "x", "type": "quantitative", "scale": {"domain": [0, 30.8], "nice": false, "zero": false}, "axis": null},
        "y": {"field": "y", "type": "quantitative", "scale": {"domain": [0, 24], "nice": false, "zero": false}, "axis": null},
        "text": {"field": "t"}
      }
    },
    {
      "width": 420, "height": 250,
      "encoding": {
        "x": {"field": "A", "type": "quantitative", "scale": {"domain": [-12.9, 29.1], "nice": false, "zero": false}, "axis": null},
        "y": {"field": "dA", "type": "quantitative", "scale": {"domain": [-5.7, 19.3], "nice": false, "zero": false}, "axis": null}
      },
      "layer": [
        {"data": {"name": "phase_axes"}, "transform": [{"filter": "datum.p === 'γ'"}], "mark": {"type": "rule", "color": "black", "strokeWidth": 1.5}, "encoding": {"x2": {"field": "A2"}, "y2": {"field": "dA2"}}},
        {"data": {"name": "trajectories"}, "transform": [{"filter": "datum.p === 'γ'"}], "mark": {"type": "line", "interpolate": "catmull-rom", "color": "black", "strokeWidth": 2.1}, "encoding": {"detail": {"field": "c", "type": "nominal"}, "order": {"field": "i", "type": "quantitative"}}},
        {"data": {"name": "arrows"}, "transform": [{"filter": "datum.p === 'γ'"}], "mark": {"type": "point", "shape": "triangle-up", "filled": true, "color": "black", "opacity": 1, "size": 44}, "encoding": {"angle": {"field": "dir", "type": "quantitative", "scale": null}}},
        {"data": {"name": "foci"}, "transform": [{"filter": "datum.p === 'γ'"}], "mark": {"type": "circle", "color": "black", "opacity": 1}, "encoding": {"size": {"field": "kind", "type": "ordinal", "scale": {"domain": ["focus", "dense focus"], "range": [40, 170]}, "legend": null}}},
        {"data": {"name": "phase_labels"}, "transform": [{"filter": "datum.p === 'γ' && datum.role === 'panel'"}], "mark": {"type": "text", "fontSize": 36, "fontStyle": "italic", "align": "center", "baseline": "alphabetic"}, "encoding": {"text": {"field": "t"}}},
        {"data": {"name": "phase_labels"}, "transform": [{"filter": "datum.p === 'γ' && datum.role === 'axis'"}], "mark": {"type": "text", "fontSize": 24, "fontStyle": "italic", "align": "left", "baseline": "alphabetic"}, "encoding": {"text": {"field": "t"}}},
        {"data": {"name": "phase_labels"}, "transform": [{"filter": "datum.p === 'γ' && datum.role === 'frac'"}], "mark": {"type": "text", "fontSize": 17, "fontStyle": "italic", "fontWeight": "bold", "align": "center", "baseline": "middle"}, "encoding": {"text": {"field": "t"}}}
      ]
    },
    {
      "width": 308, "height": 250,
      "encoding": {
        "x": {"field": "x", "type": "quantitative", "scale": {"domain": [-3.6, 27.2], "nice": false, "zero": false}, "axis": null},
        "y": {"field": "A", "type": "quantitative", "scale": {"domain": [-8, 17], "nice": false, "zero": false}, "axis": null}
      },
      "layer": [
        {"data": {"name": "profile_axes"}, "transform": [{"filter": "datum.p === 'γ'"}], "mark": {"type": "rule", "color": "black", "strokeWidth": 1.5}, "encoding": {"x2": {"field": "x2"}, "y2": {"field": "A2"}}},
        {"data": {"name": "profiles"}, "transform": [{"filter": "datum.p === 'γ'"}], "mark": {"type": "line", "interpolate": "monotone", "color": "black", "strokeWidth": 2.1}, "encoding": {"order": {"field": "i", "type": "quantitative"}}},
        {"data": {"name": "profile_labels"}, "transform": [{"filter": "datum.p === 'γ' && datum.role === 'value'"}], "mark": {"type": "text", "fontSize": 25, "fontStyle": "italic", "align": "left", "baseline": "alphabetic"}, "encoding": {"text": {"field": "t"}}},
        {"data": {"name": "profile_labels"}, "transform": [{"filter": "datum.p === 'γ' && datum.role === 'position'"}], "mark": {"type": "text", "fontSize": 25, "fontStyle": "italic", "align": "right", "baseline": "alphabetic"}, "encoding": {"text": {"field": "t"}}}
      ]
    },
    {
      "width": 420, "height": 270,
      "encoding": {
        "x": {"field": "A", "type": "quantitative", "scale": {"domain": [-14.3, 27.7], "nice": false, "zero": false}, "axis": null},
        "y": {"field": "dA", "type": "quantitative", "scale": {"domain": [-7.7, 19.3], "nice": false, "zero": false}, "axis": null}
      },
      "layer": [
        {"data": {"name": "phase_axes"}, "transform": [{"filter": "datum.p === 'δ'"}], "mark": {"type": "rule", "color": "black", "strokeWidth": 1.5}, "encoding": {"x2": {"field": "A2"}, "y2": {"field": "dA2"}}},
        {"data": {"name": "trajectories"}, "transform": [{"filter": "datum.p === 'δ'"}], "mark": {"type": "line", "interpolate": "catmull-rom", "color": "black", "strokeWidth": 2.1}, "encoding": {"detail": {"field": "c", "type": "nominal"}, "order": {"field": "i", "type": "quantitative"}}},
        {"data": {"name": "arrows"}, "transform": [{"filter": "datum.p === 'δ'"}], "mark": {"type": "point", "shape": "triangle-up", "filled": true, "color": "black", "opacity": 1, "size": 44}, "encoding": {"angle": {"field": "dir", "type": "quantitative", "scale": null}}},
        {"data": {"name": "foci"}, "transform": [{"filter": "datum.p === 'δ'"}], "mark": {"type": "circle", "color": "black", "opacity": 1}, "encoding": {"size": {"field": "kind", "type": "ordinal", "scale": {"domain": ["focus", "dense focus"], "range": [40, 170]}, "legend": null}}},
        {"data": {"name": "phase_labels"}, "transform": [{"filter": "datum.p === 'δ' && datum.role === 'panel'"}], "mark": {"type": "text", "fontSize": 36, "fontStyle": "italic", "align": "center", "baseline": "alphabetic"}, "encoding": {"text": {"field": "t"}}},
        {"data": {"name": "phase_labels"}, "transform": [{"filter": "datum.p === 'δ' && datum.role === 'axis'"}], "mark": {"type": "text", "fontSize": 24, "fontStyle": "italic", "align": "left", "baseline": "alphabetic"}, "encoding": {"text": {"field": "t"}}},
        {"data": {"name": "phase_labels"}, "transform": [{"filter": "datum.p === 'δ' && datum.role === 'frac'"}], "mark": {"type": "text", "fontSize": 17, "fontStyle": "italic", "fontWeight": "bold", "align": "center", "baseline": "middle"}, "encoding": {"text": {"field": "t"}}}
      ]
    },
    {
      "width": 308, "height": 270,
      "data": {"name": "notes"},
      "transform": [{"filter": "datum.p === 'δ'"}],
      "mark": {"type": "text", "fontSize": 34, "align": "center", "baseline": "alphabetic"},
      "encoding": {
        "x": {"field": "x", "type": "quantitative", "scale": {"domain": [0, 30.8], "nice": false, "zero": false}, "axis": null},
        "y": {"field": "y", "type": "quantitative", "scale": {"domain": [0, 27], "nice": false, "zero": false}, "axis": null},
        "text": {"field": "t"}
      }
    },
    {
      "width": 420, "height": 250,
      "encoding": {
        "x": {"field": "A", "type": "quantitative", "scale": {"domain": [-14.4, 27.6], "nice": false, "zero": false}, "axis": null},
        "y": {"field": "dA", "type": "quantitative", "scale": {"domain": [-7.6, 17.4], "nice": false, "zero": false}, "axis": null}
      },
      "layer": [
        {"data": {"name": "phase_axes"}, "transform": [{"filter": "datum.p === 'ϵ'"}], "mark": {"type": "rule", "color": "black", "strokeWidth": 1.5}, "encoding": {"x2": {"field": "A2"}, "y2": {"field": "dA2"}}},
        {"data": {"name": "trajectories"}, "transform": [{"filter": "datum.p === 'ϵ'"}], "mark": {"type": "line", "interpolate": "catmull-rom", "color": "black", "strokeWidth": 2.1}, "encoding": {"detail": {"field": "c", "type": "nominal"}, "order": {"field": "i", "type": "quantitative"}}},
        {"data": {"name": "arrows"}, "transform": [{"filter": "datum.p === 'ϵ'"}], "mark": {"type": "point", "shape": "triangle-up", "filled": true, "color": "black", "opacity": 1, "size": 44}, "encoding": {"angle": {"field": "dir", "type": "quantitative", "scale": null}}},
        {"data": {"name": "foci"}, "transform": [{"filter": "datum.p === 'ϵ'"}], "mark": {"type": "circle", "color": "black", "opacity": 1}, "encoding": {"size": {"field": "kind", "type": "ordinal", "scale": {"domain": ["focus", "dense focus"], "range": [48, 170]}, "legend": null}}},
        {"data": {"name": "phase_labels"}, "transform": [{"filter": "datum.p === 'ϵ' && datum.role === 'panel'"}], "mark": {"type": "text", "fontSize": 28, "font": "DejaVu Serif", "align": "center", "baseline": "alphabetic"}, "encoding": {"text": {"field": "t"}}},
        {"data": {"name": "phase_labels"}, "transform": [{"filter": "datum.p === 'ϵ' && datum.role === 'axis'"}], "mark": {"type": "text", "fontSize": 24, "fontStyle": "italic", "align": "left", "baseline": "alphabetic"}, "encoding": {"text": {"field": "t"}}},
        {"data": {"name": "phase_labels"}, "transform": [{"filter": "datum.p === 'ϵ' && datum.role === 'frac'"}], "mark": {"type": "text", "fontSize": 17, "fontStyle": "italic", "fontWeight": "bold", "align": "center", "baseline": "middle"}, "encoding": {"text": {"field": "t"}}}
      ]
    },
    {
      "width": 308, "height": 250,
      "encoding": {
        "x": {"field": "x", "type": "quantitative", "scale": {"domain": [-3.8, 27.0], "nice": false, "zero": false}, "axis": null},
        "y": {"field": "A", "type": "quantitative", "scale": {"domain": [-8.4, 16.6], "nice": false, "zero": false}, "axis": null}
      },
      "layer": [
        {"data": {"name": "profile_axes"}, "transform": [{"filter": "datum.p === 'ϵ'"}], "mark": {"type": "rule", "color": "black", "strokeWidth": 1.5}, "encoding": {"x2": {"field": "x2"}, "y2": {"field": "A2"}}},
        {"data": {"name": "profiles"}, "transform": [{"filter": "datum.p === 'ϵ'"}], "mark": {"type": "line", "interpolate": "monotone", "color": "black", "strokeWidth": 2.1}, "encoding": {"order": {"field": "i", "type": "quantitative"}}},
        {"data": {"name": "profile_labels"}, "transform": [{"filter": "datum.p === 'ϵ' && datum.role === 'value'"}], "mark": {"type": "text", "fontSize": 25, "fontStyle": "italic", "align": "left", "baseline": "alphabetic"}, "encoding": {"text": {"field": "t"}}},
        {"data": {"name": "profile_labels"}, "transform": [{"filter": "datum.p === 'ϵ' && datum.role === 'position'"}], "mark": {"type": "text", "fontSize": 25, "fontStyle": "italic", "align": "right", "baseline": "alphabetic"}, "encoding": {"text": {"field": "t"}}}
      ]
    }
  ]
}
